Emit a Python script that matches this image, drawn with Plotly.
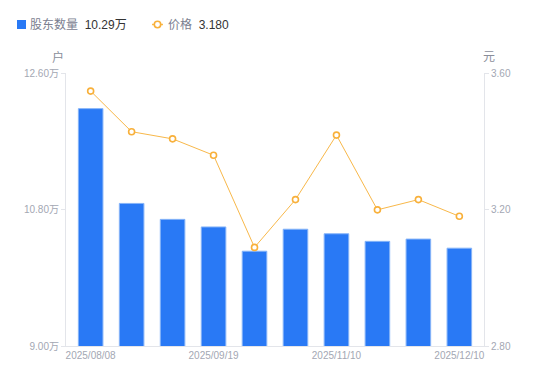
import plotly.graph_objects as go

dates = ["2025/08/08", "2025/08/20", "2025/08/29", "2025/09/19", "2025/09/30",
         "2025/10/20", "2025/11/10", "2025/11/20", "2025/11/28", "2025/12/10"]
holders = [12.13, 10.88, 10.67, 10.57, 10.25, 10.54, 10.48, 10.38, 10.41, 10.29]  # 万户
price = [3.547, 3.428, 3.407, 3.359, 3.089, 3.229, 3.418, 3.199, 3.229, 3.180]

left_ticks = [9.00, 10.80, 12.60]
left_text = ["9.00万", "10.80万", "12.60万"]
right_ticks = [2.80, 3.20, 3.60]
right_text = ["2.80", "3.20", "3.60"]
shown_dates = [dates[0], dates[3], dates[6], dates[9]]

holder_name, holder_latest = "股东数量", "10.29万"
price_name, price_latest = "价格", "3.180"

FONT = "Liberation Sans, Noto Sans CJK SC, sans-serif"
AXIS = "#e3e5ea"
LABEL = "#a3a7b3"
BLUE = "#2979f5"
ORANGE = "#f8b84a"

fig = go.Figure()
fig.add_trace(go.Bar(
    x=dates, y=holders, yaxis="y", name=holder_name,
    marker=dict(color=BLUE, line=dict(color="#86b4f8", width=1)),
))
fig.add_trace(go.Scatter(
    x=dates, y=price, yaxis="y2", mode="lines+markers", name=price_name,
    line=dict(color=ORANGE, width=1),
    marker=dict(size=6, color="white", line=dict(color="#f8b03a", width=1.6)),
))

# legend drawn as annotations + icon shapes (top-left, like the reference)
def px_x(fx):  # figure px -> paper x (plot area: left 58, width 418)
    return (fx - 58) / 418

def px_y(fy):  # figure px -> paper y (plot area: top 65, height 273)
    return (338 - fy) / 273

ly = 16.5
shapes = [
    dict(type="rect", xref="paper", yref="paper", x0=px_x(9), x1=px_x(18),
         y0=px_y(21), y1=px_y(12), fillcolor=BLUE, line=dict(width=0)),
    dict(type="line", xref="paper", yref="paper", x0=px_x(144), x1=px_x(155),
         y0=px_y(ly), y1=px_y(ly), line=dict(color=ORANGE, width=1.5)),
    dict(type="circle", xref="paper", yref="paper", x0=px_x(146.3), x1=px_x(152.7),
         y0=px_y(ly + 3.2), y1=px_y(ly - 3.2), fillcolor="white",
         line=dict(color="#f8b03a", width=1.6)),
]

annotations = [
    dict(text=f"<span style='color:#7b8090'>{holder_name}</span>&nbsp;&nbsp;"
              f"<span style='color:#333333'>{holder_latest}</span>",
         xref="paper", yref="paper", x=px_x(20), y=px_y(ly), xanchor="left", yanchor="middle",
         showarrow=False, font=dict(size=12)),
    dict(text=f"<span style='color:#7b8090'>{price_name}</span>&nbsp;&nbsp;"
              f"<span style='color:#333333'>{price_latest}</span>",
         xref="paper", yref="paper", x=px_x(158), y=px_y(ly), xanchor="left", yanchor="middle",
         showarrow=False, font=dict(size=12)),
    dict(text="户", xref="paper", yref="paper", x=-0.02, y=1.0, yshift=16,
         xanchor="center", yanchor="middle", showarrow=False,
         font=dict(size=12, color="#8a8e9a")),
    dict(text="元", xref="paper", yref="paper", x=1.012, y=1.0, yshift=16,
         xanchor="center", yanchor="middle", showarrow=False,
         font=dict(size=12, color="#8a8e9a")),
]

# page body has an 8px default margin; compensate so the plot area lands where the reference has it
fig.update_layout(
    width=550, height=381,
    margin=dict(l=58, r=74, t=65, b=43),
    paper_bgcolor="white", plot_bgcolor="white",
    font=dict(family=FONT, size=11, color=LABEL),
    bargap=0.4,
    showlegend=False,
    xaxis=dict(type="category", tickmode="array", tickvals=shown_dates, ticktext=shown_dates,
               showgrid=False, showline=True, linecolor=AXIS, linewidth=1, automargin=False,
               ticks="", tickfont=dict(size=10, color=LABEL), zeroline=False),
    yaxis=dict(range=[9.0, 12.6], tickmode="array", tickvals=left_ticks, ticktext=left_text,
               showgrid=False, showline=True, linecolor=AXIS, linewidth=1, automargin=False,
               ticks="outside", ticklen=4, tickcolor=AXIS,
               tickfont=dict(size=10, color=LABEL), zeroline=False),
    yaxis2=dict(range=[2.8, 3.6], overlaying="y", side="right", tickmode="array",
                tickvals=right_ticks, ticktext=right_text, automargin=False,
                showgrid=False, showline=True, linecolor=AXIS, linewidth=1,
                ticks="outside", ticklen=4, tickcolor=AXIS,
                tickfont=dict(size=10, color=LABEL), zeroline=False),
    shapes=shapes,
    annotations=annotations,
)

fig.write_html("out.html")
